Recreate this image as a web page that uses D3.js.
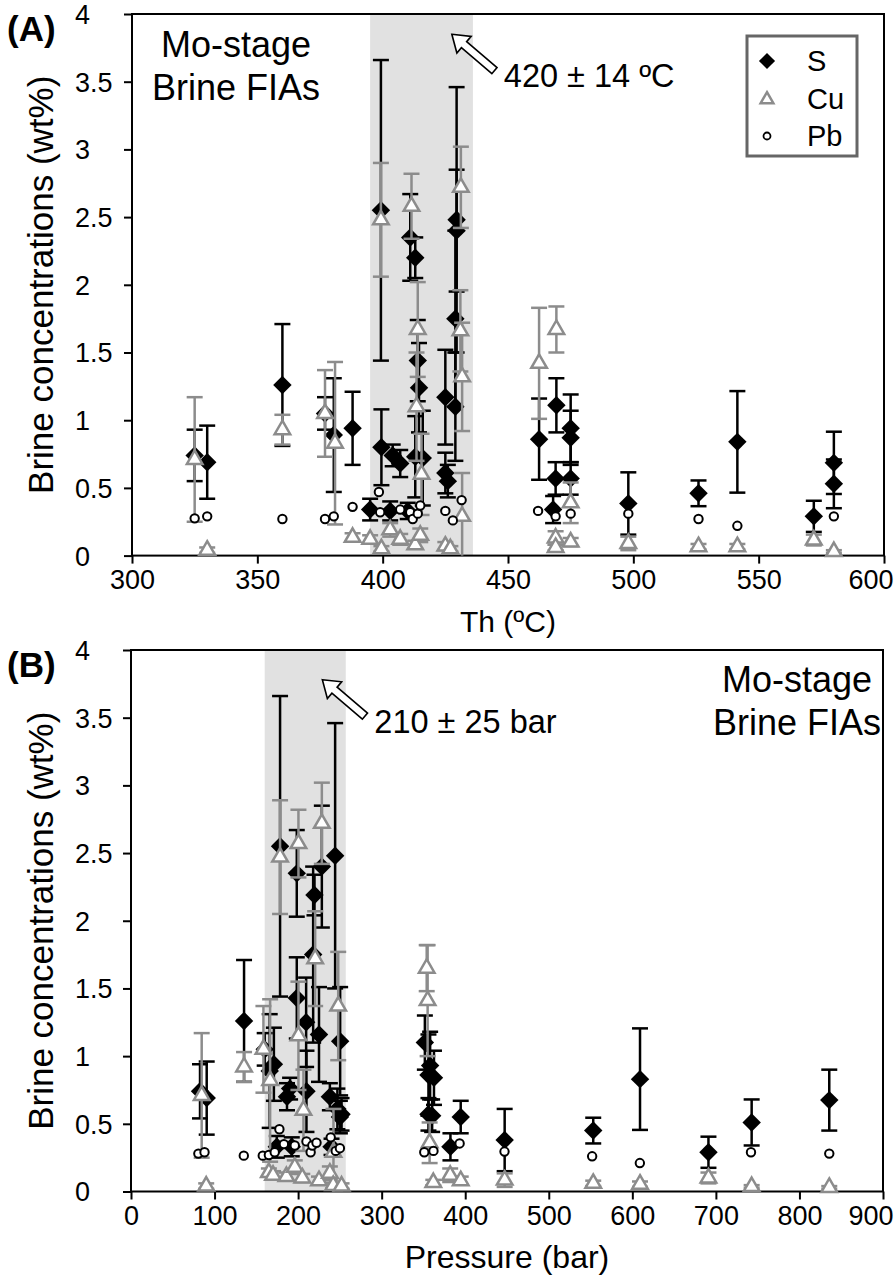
<!DOCTYPE html>
<html>
<head>
<meta charset="utf-8">
<script src="https://cdn.jsdelivr.net/npm/d3@7"></script>
<style>
  body { margin: 0; background: #fff; }
  text { font-family: "Liberation Sans", Arial, sans-serif; fill: #000; }
</style>
</head>
<body>
<div id="chart"></div>
<script>
// ---- panel A : Th (ºC) vs concentration ----  [x, value, error]
var aSulfur = [
  [325, 0.74, 0.19], [330, 0.69, 0.27], [360, 1.26, 0.45], [377, 1.05, 0.12],
  [380.5, 0.89, 0.42], [388, 0.94, 0.27], [395, 0.34, 0.08], [399.5, 0.80, 0.28],
  [399.3, 2.55, 1.11], [403, 0.33, 0.07], [404, 0.74, 0.08], [407, 0.68, 0.10],
  [411, 2.35, 0.32], [413, 2.20, 0.15], [414, 1.44, 0.30], [414.5, 1.24, 0.33],
  [413, 0.73, 0.30], [416, 0.72, 0.35], [410, 0.33, 0.06], [425, 1.17, 0.35],
  [429, 1.10, 0.40], [429, 1.75, 0.65], [429.5, 2.48, 0.98], [429.5, 2.40, 0.45],
  [425, 0.61, 0.15], [426, 0.55, 0.12], [462.4, 0.86, 0.30], [469.3, 1.11, 0.20],
  [475, 0.94, 0.25], [475, 0.87, 0.20], [469, 0.57, 0.12], [475, 0.57, 0.12],
  [468, 0.34, 0.10], [498, 0.385, 0.23], [526, 0.46, 0.095], [541.5, 0.84, 0.375],
  [572, 0.29, 0.115], [580, 0.685, 0.23], [580, 0.53, 0.18]
];
var aCopper = [
  [325, 0.71, 0.46], [330, 0.04, 0.02], [360, 0.93, 0.11], [377, 1.05, 0.32],
  [381, 0.83, 0.60], [388, 0.135, 0.03], [395, 0.12, 0.03], [399.3, 2.48, 0.42],
  [399.5, 0.05, 0.02], [403, 0.19, 0.05], [407, 0.12, 0.04], [411.5, 2.58, 0.24],
  [414, 1.67, 0.35], [413.5, 1.10, 0.40], [415.5, 0.60, 0.30], [413, 0.08, 0.03],
  [415, 0.15, 0.05], [431.2, 2.72, 0.30], [431, 1.66, 0.30], [431.7, 1.32, 0.40],
  [431.7, 0.29, 0.32], [425, 0.07, 0.03], [427, 0.05, 0.02], [462.4, 1.42, 0.41],
  [469.3, 1.67, 0.17], [475, 0.39, 0.15], [469, 0.13, 0.05], [475, 0.10, 0.03],
  [469, 0.06, 0.02], [498, 0.09, 0.05], [526, 0.066, 0.02], [541.5, 0.066, 0.02],
  [572, 0.115, 0.04], [580, 0.03, 0.01]
];
var aLead = [
  [325, 0.275], [330, 0.29], [360, 0.27], [377, 0.27], [380.5, 0.29], [388, 0.36],
  [398.5, 0.47], [399, 0.32], [407, 0.34], [411, 0.32], [412, 0.27], [414, 0.31],
  [415, 0.37], [425, 0.33], [428, 0.26], [431.5, 0.41], [462, 0.33], [469, 0.29],
  [475, 0.31], [498, 0.31], [526, 0.27], [541.5, 0.22], [580, 0.29]
];

// ---- panel B : Pressure (bar) vs concentration ----
var bSulfur = [
  [82.6, 0.74, 0.20], [90.6, 0.69, 0.27], [135.3, 1.26, 0.45], [160, 1.05, 0.12],
  [166, 0.89, 0.42], [171, 0.94, 0.27], [174.5, 0.33, 0.08], [178.4, 2.55, 1.11],
  [186.7, 0.70, 0.10], [190.4, 0.76, 0.08], [192.4, 0.33, 0.07], [198.4, 2.35, 0.32],
  [198.4, 1.43, 0.30], [209.6, 1.25, 0.33], [210, 0.74, 0.30], [218, 1.75, 0.65],
  [219.6, 2.19, 0.15], [225, 1.16, 0.35], [228.4, 2.40, 0.45], [238, 0.70, 0.10],
  [244.3, 2.48, 0.98], [250.3, 1.11, 0.40], [247, 0.61, 0.15], [250, 0.55, 0.12],
  [252, 0.57, 0.12], [240, 0.33, 0.06], [351.7, 1.10, 0.20], [356, 0.86, 0.30],
  [362.6, 0.84, 0.20], [358, 0.93, 0.25], [360.4, 0.56, 0.12], [356, 0.57, 0.12],
  [382.3, 0.33, 0.10], [394.6, 0.55, 0.12], [447.2, 0.38, 0.23], [553.2, 0.45, 0.095],
  [609.2, 0.83, 0.375], [691.1, 0.29, 0.115], [742.8, 0.51, 0.17], [835.7, 0.675, 0.225]
];
var bCopper = [
  [84.6, 0.71, 0.46], [90, 0.04, 0.02], [135.3, 0.92, 0.11], [158.5, 1.05, 0.32],
  [166.5, 0.82, 0.60], [165, 0.14, 0.03], [170, 0.12, 0.03], [178.4, 2.47, 0.42],
  [186, 0.11, 0.03], [196, 0.18, 0.05], [200.4, 2.57, 0.25], [200.4, 1.15, 0.40],
  [205, 0.10, 0.03], [206.4, 0.60, 0.30], [220.4, 1.72, 0.35], [225, 0.08, 0.03],
  [228.4, 2.72, 0.30], [238, 0.135, 0.05], [242.3, 0.29, 0.32], [242, 0.045, 0.02],
  [248, 1.37, 0.40], [252, 0.04, 0.02], [353.9, 1.65, 0.17], [355, 1.41, 0.41],
  [357.4, 0.36, 0.15], [361.8, 0.066, 0.02], [382, 0.12, 0.05], [394.6, 0.08, 0.03],
  [447.2, 0.084, 0.05], [553.2, 0.06, 0.02], [609.2, 0.054, 0.02], [691.1, 0.10, 0.04],
  [742.8, 0.037, 0.01], [835.7, 0.03, 0.01]
];
var bLead = [
  [80.6, 0.28], [88, 0.29], [135, 0.265], [157.7, 0.265], [165, 0.27], [172, 0.29],
  [177.6, 0.46], [183, 0.35], [196, 0.34], [210, 0.37], [215, 0.29], [217, 0.34],
  [222, 0.36], [239, 0.40], [245, 0.30], [250, 0.32], [351, 0.29], [362, 0.30],
  [393.3, 0.355], [447, 0.295], [551.9, 0.26], [609, 0.21], [742, 0.29], [835.7, 0.28]
];

var yTicks = [0, 0.5, 1, 1.5, 2, 2.5, 3, 3.5, 4];
var aXTicks = [300, 350, 400, 450, 500, 550, 600];
var bXTicks = [0, 100, 200, 300, 400, 500, 600, 700, 800, 900];
var aBand = [395, 436];
var bBand = [160, 257];
var legendItems = ["S", "Cu", "Pb"];

var W = 894, H = 1279;
var grey = "#8c8c8c";

var svg = d3.select("#chart").append("svg")
    .attr("width", W).attr("height", H);

var diamond = d3.symbol().type(d3.symbolSquare).size(170);
var triangle = d3.symbol().type(d3.symbolTriangle).size(105);

function drawPanel(p) {
  var g = svg.append("g");
  var x = d3.scaleLinear().domain(p.xDomain).range([p.left, p.right]);
  var y = d3.scaleLinear().domain([0, 4]).range([p.bottom, p.top]);

  // shaded band
  g.append("rect")
    .attr("x", x(p.band[0])).attr("y", y(4))
    .attr("width", x(p.band[1]) - x(p.band[0]))
    .attr("height", y(0) - y(4))
    .attr("fill", "#e1e1e1");

  // axes
  var yAxis = g.append("g")
    .attr("transform", "translate(" + p.left + ",0)")
    .call(d3.axisLeft(y).tickValues(yTicks).tickSize(8).tickFormat(d3.format("")));
  yAxis.selectAll("text")
    .attr("text-anchor", "start")
    .attr("x", 75 - p.left)
    .attr("dy", "0.35em")
    .style("font-size", "27px");

  var xAxis = g.append("g")
    .attr("transform", "translate(0," + p.bottom + ")")
    .call(d3.axisBottom(x).tickValues(p.xTicks).tickSize(8).tickFormat(d3.format("")));
  xAxis.selectAll("text").attr("y", 14).style("font-size", "27px");
  // last label is pulled inside the page edge, as in the figure
  xAxis.selectAll(".tick").filter(function(d, i, n) { return i === n.length - 1; })
    .select("text").attr("text-anchor", "end").attr("x", W - 1 - p.right);

  svg.selectAll(".domain").remove();
  g.selectAll(".tick line").attr("stroke", "#000").attr("stroke-width", 2);

  // frame
  g.append("rect")
    .attr("x", p.left).attr("y", p.top)
    .attr("width", p.right - p.left).attr("height", p.bottom - p.top)
    .attr("fill", "none").attr("stroke", "#000").attr("stroke-width", 2);

  // error bars + markers
  function errorBars(data, colour, cls) {
    var eb = g.append("g").attr("class", cls)
      .selectAll("g").data(data).enter().append("g")
      .attr("stroke", colour).attr("stroke-width", 2.5);
    eb.append("line")
      .attr("x1", function(d) { return x(d[0]); })
      .attr("x2", function(d) { return x(d[0]); })
      .attr("y1", function(d) { return y(Math.max(0, d[1] - d[2])); })
      .attr("y2", function(d) { return y(d[1] + d[2]); });
    eb.append("line")
      .attr("x1", function(d) { return x(d[0]) - 8; })
      .attr("x2", function(d) { return x(d[0]) + 8; })
      .attr("y1", function(d) { return y(d[1] + d[2]); })
      .attr("y2", function(d) { return y(d[1] + d[2]); });
    eb.filter(function(d) { return d[1] - d[2] > 0; }).append("line")
      .attr("x1", function(d) { return x(d[0]) - 8; })
      .attr("x2", function(d) { return x(d[0]) + 8; })
      .attr("y1", function(d) { return y(d[1] - d[2]); })
      .attr("y2", function(d) { return y(d[1] - d[2]); });
  }

  errorBars(p.s, "#000", "s-err");
  g.append("g").selectAll("path").data(p.s).enter().append("path")
    .attr("d", diamond)
    .attr("transform", function(d) { return "translate(" + x(d[0]) + "," + y(d[1]) + ") rotate(45)"; })
    .attr("fill", "#000");

  errorBars(p.cu, grey, "cu-err");
  g.append("g").selectAll("path").data(p.cu).enter().append("path")
    .attr("d", triangle)
    .attr("transform", function(d) { return "translate(" + x(d[0]) + "," + y(d[1]) + ")"; })
    .attr("fill", "#fff").attr("stroke", grey).attr("stroke-width", 2.5);

  g.append("g").selectAll("circle").data(p.pb).enter().append("circle")
    .attr("cx", function(d) { return x(d[0]); })
    .attr("cy", function(d) { return y(d[1]); })
    .attr("r", 4.2)
    .attr("fill", "#fff").attr("stroke", "#000").attr("stroke-width", 2);

  // panel label
  g.append("text").attr("x", 7).attr("y", p.top + 27)
    .style("font-size", "35px").style("font-weight", "bold")
    .text(p.label);

  // y title
  g.append("text")
    .attr("transform", "translate(53," + ((p.top + p.bottom) / 2) + ") rotate(-90)")
    .attr("text-anchor", "middle")
    .style("font-size", "35px")
    .text("Brine concentrations (wt%)");

  // x title
  g.append("text")
    .attr("x", (p.left + p.right) / 2).attr("y", p.bottom + 76)
    .attr("text-anchor", "middle")
    .style("font-size", p.xTitleSize)
    .text(p.xTitle);

  // stage note
  var note = g.append("text")
    .attr("text-anchor", "middle")
    .style("font-size", "36px");
  note.append("tspan").attr("x", p.noteX).attr("y", p.noteY).text("Mo-stage");
  note.append("tspan").attr("x", p.noteX).attr("y", p.noteY + 43).text("Brine FIAs");

  // hollow arrow + estimate
  var tip = [x(p.arrow[0]), y(p.arrow[1])];
  var ang = Math.atan2(35, 41);
  var len = 56, hw = 11, sw = 4, hl = 16;
  var pts = [[0, 0], [hl, -hw], [hl, -sw], [len, -sw], [len, sw], [hl, sw], [hl, hw]];
  g.append("path")
    .attr("d", d3.line()(pts) + "Z")
    .attr("transform", "translate(" + tip[0] + "," + tip[1] + ") rotate(" + (ang * 180 / Math.PI) + ")")
    .attr("fill", "#fff").attr("stroke", "#000").attr("stroke-width", 1.6);
  g.append("text")
    .attr("x", tip[0] + 52).attr("y", tip[1] + 53)
    .style("font-size", "32.5px")
    .text(p.estimate);

  return g;
}

drawPanel({
  left: 132, right: 884, top: 14, bottom: 555.6,
  xDomain: [300, 600], xTicks: aXTicks, band: aBand,
  s: aSulfur, cu: aCopper, pb: aLead,
  label: "(A)", xTitle: "Th (ºC)", xTitleSize: "30px",
  noteX: 236, noteY: 57,
  arrow: [427.6, 3.85], estimate: "420 ± 14 ºC"
});

drawPanel({
  left: 131, right: 883, top: 650, bottom: 1191.5,
  xDomain: [0, 900], xTicks: bXTicks, band: bBand,
  s: bSulfur, cu: bCopper, pb: bLead,
  label: "(B)", xTitle: "Pressure (bar)", xTitleSize: "32px",
  noteX: 797, noteY: 692,
  arrow: [229, 3.78], estimate: "210 ± 25 bar"
});

// legend (panel A)
var lg = svg.append("g").attr("transform", "translate(747,36)");
lg.append("rect").attr("width", 110).attr("height", 120)
  .attr("fill", "#fff").attr("stroke", "#666").attr("stroke-width", 3);
var ly = d3.scalePoint().domain(legendItems).range([25, 100]);
lg.append("path").attr("d", d3.symbol().type(d3.symbolSquare).size(130))
  .attr("transform", "translate(20," + ly("S") + ") rotate(45)").attr("fill", "#000");
lg.append("path").attr("d", d3.symbol().type(d3.symbolTriangle).size(70))
  .attr("transform", "translate(20," + (ly("Cu") + 1) + ")")
  .attr("fill", "#fff").attr("stroke", grey).attr("stroke-width", 2.5);
lg.append("circle").attr("cx", 20).attr("cy", ly("Pb")).attr("r", 3.5)
  .attr("fill", "#fff").attr("stroke", "#000").attr("stroke-width", 1.8);
lg.selectAll("text.item").data(legendItems).enter().append("text")
  .attr("class", "item")
  .attr("x", 60).attr("y", function(d) { return ly(d) + 10; })
  .style("font-size", "29px")
  .text(function(d) { return d; });
</script>
</body>
</html>
